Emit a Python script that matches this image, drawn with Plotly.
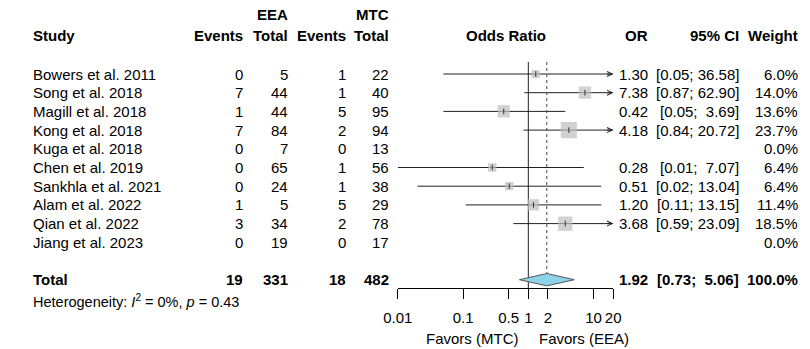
import math
import plotly.graph_objects as go

# ---------------- data ----------------
studies = ["Bowers et al. 2011", "Song et al. 2018", "Magill et al. 2018", "Kong et al. 2018",
           "Kuga et al. 2018", "Chen et al. 2019", "Sankhla et al. 2021", "Alam et al. 2022",
           "Qian et al. 2022", "Jiang et al. 2023"]
eea_events = [0, 7, 1, 7, 0, 0, 0, 1, 3, 0]
eea_total = [5, 44, 44, 84, 7, 65, 24, 5, 34, 19]
mtc_events = [1, 1, 5, 2, 0, 1, 1, 5, 2, 0]
mtc_total = [22, 40, 95, 94, 13, 56, 38, 29, 78, 17]
odds_ratio = [1.30, 7.38, 0.42, 4.18, None, 0.28, 0.51, 1.20, 3.68, None]
ci_lower = [0.05, 0.87, 0.05, 0.84, None, 0.01, 0.02, 0.11, 0.59, None]
ci_upper = [36.58, 62.90, 3.69, 20.72, None, 7.07, 13.04, 13.15, 23.09, None]
weights = [6.0, 14.0, 13.6, 23.7, 0.0, 6.4, 6.4, 11.4, 18.5, 0.0]

total_eea_events = 19
total_eea = 331
total_mtc_events = 18
total_mtc = 482
pooled_or = 1.92
pooled_lower = 0.73
pooled_upper = 5.06
pooled_weight = 100.0
het_i2 = 0
het_p = 0.43

axis_ticks = [0.01, 0.1, 0.5, 1, 2, 10, 20]
axis_tick_labels = ["0.01", "0.1", "0.5", "1", "2", "10", "20"]
axis_min, axis_max = 0.01, 20

# ---------------- layout constants ----------------
W, H = 810, 349
FONT = "Liberation Sans, Arial, sans-serif"
FS = 15
ROW0 = 74.0      # pixel y of first study row
STEP = 18.7      # pixel spacing between rows
NBSP = "\u00a0"


def py(px):
    """pixel y -> row-index coordinate"""
    return (px - ROW0) / STEP


def fx(px):
    """pixel x -> paper fraction"""
    return px / W


n = len(studies)
total_row = n + 1
axis_line_px = 288

fig = go.Figure()

# CI lines
cx, cy = [], []
arrows = []
for i in range(n):
    if odds_ratio[i] is None:
        continue
    lo = max(ci_lower[i], axis_min)
    hi = min(ci_upper[i], axis_max)
    cx += [lo, hi, None]
    cy += [i, i, None]
    if ci_upper[i] > axis_max:
        arrows.append(i)
fig.add_trace(go.Scatter(x=cx, y=cy, mode="lines", line=dict(color="#222222", width=1),
                         hoverinfo="skip", showlegend=False))

# reference line at OR = 1
fig.add_trace(go.Scatter(x=[1, 1], y=[py(62), py(axis_line_px)], mode="lines",
                         line=dict(color="#222222", width=1), hoverinfo="skip", showlegend=False))
# dotted line at pooled estimate
dh = 0.33
fig.add_trace(go.Scatter(x=[pooled_or, pooled_or], y=[py(62), total_row - dh], mode="lines",
                         line=dict(color="#444444", width=1, dash="dot"), hoverinfo="skip",
                         showlegend=False))

# boxes
bx, by, bs = [], [], []
for i in range(n):
    if odds_ratio[i] is None:
        continue
    bx.append(odds_ratio[i])
    by.append(i)
    bs.append(3.3 * math.sqrt(weights[i]))
fig.add_trace(go.Scatter(x=bx, y=by, mode="markers",
                         marker=dict(symbol="square", size=bs, color="#BEBEBE", line=dict(width=0)),
                         hoverinfo="skip", showlegend=False))
fig.add_trace(go.Scatter(x=bx, y=by, mode="markers",
                         marker=dict(symbol="line-ns", size=4, line=dict(color="#333333", width=1)),
                         hoverinfo="skip", showlegend=False))

# diamond
fig.add_trace(go.Scatter(x=[pooled_lower, pooled_or, pooled_upper, pooled_or, pooled_lower],
                         y=[total_row, total_row - dh, total_row, total_row + dh, total_row],
                         mode="lines", fill="toself", fillcolor="#8DD3EA",
                         line=dict(color="#555555", width=1), hoverinfo="skip", showlegend=False))

annotations = []


def txt(x_px, y, text, anchor="right", bold=False, size=FS):
    if bold:
        text = "<b>" + text + "</b>"
    annotations.append(dict(x=fx(x_px), y=y, xref="paper", yref="y", text=text, showarrow=False,
                            xanchor=anchor, yanchor="middle",
                            font=dict(family=FONT, size=size, color="black")))


# arrows
for i in arrows:
    annotations.append(dict(x=math.log10(axis_max), y=i, ax=math.log10(axis_max) - 0.12, ay=i,
                            xref="x", yref="y", axref="x", ayref="y", text="", showarrow=True,
                            arrowhead=5, arrowsize=1, arrowwidth=1, arrowcolor="#222222",
                            standoff=0, startstandoff=0))

COL_STUDY = 16
COL_EE, COL_ET, COL_ME, COL_MT = 237, 283, 343, 387
COL_OR, COL_CI, COL_W = 654, 747, 808

# headers
hy1, hy2 = py(14), py(35.5)
txt(COL_ET, hy1, "EEA", bold=True)
txt(COL_MT, hy1, "MTC", bold=True)
txt(COL_STUDY, hy2, "Study", anchor="left", bold=True)
txt(COL_EE, hy2, "Events", bold=True)
txt(COL_ET, hy2, "Total", bold=True)
txt(COL_ME, hy2, "Events", bold=True)
txt(COL_MT, hy2, "Total", bold=True)
annotations.append(dict(x=0.5 * (math.log10(axis_min) + math.log10(axis_max)), y=hy2, xref="x", yref="y",
                        text="<b>Odds Ratio</b>", showarrow=False, xanchor="center", yanchor="middle",
                        font=dict(family=FONT, size=FS, color="black")))
txt(COL_OR, hy2, "OR", bold=True)
txt(COL_CI, hy2, "95% CI", bold=True)
txt(COL_W, hy2, "Weight", bold=True)


def ci_text(lo, hi):
    return ("[%.2f; %5.2f]" % (lo, hi)).replace(" ", NBSP)


for i in range(n):
    txt(COL_STUDY, i, studies[i], anchor="left")
    txt(COL_EE, i, str(eea_events[i]))
    txt(COL_ET, i, str(eea_total[i]))
    txt(COL_ME, i, str(mtc_events[i]))
    txt(COL_MT, i, str(mtc_total[i]))
    if odds_ratio[i] is not None:
        txt(COL_OR, i, "%.2f" % odds_ratio[i])
        txt(COL_CI, i, ci_text(ci_lower[i], ci_upper[i]))
    txt(COL_W, i, "%.1f%%" % weights[i])

# total row
txt(COL_STUDY, total_row, "Total", anchor="left", bold=True)
txt(COL_EE, total_row, str(total_eea_events), bold=True)
txt(COL_ET, total_row, str(total_eea), bold=True)
txt(COL_ME, total_row, str(total_mtc_events), bold=True)
txt(COL_MT, total_row, str(total_mtc), bold=True)
txt(COL_OR, total_row, "%.2f" % pooled_or, bold=True)
txt(COL_CI, total_row, ci_text(pooled_lower, pooled_upper), bold=True)
txt(COL_W, total_row, "%.1f%%" % pooled_weight, bold=True)

# heterogeneity
txt(COL_STUDY, py(300.5),
    "Heterogeneity: <i>I</i><sup>2</sup> = %d%%, <i>p</i> = %.2f" % (het_i2, het_p),
    anchor="left", size=14.5)

# favors labels
fy = py(338)
annotations.append(dict(x=0, y=fy, xref="x", yref="y", text="Favors (MTC)", showarrow=False,
                        xanchor="right", yanchor="middle", xshift=-7,
                        font=dict(family=FONT, size=FS, color="black")))
annotations.append(dict(x=0, y=fy, xref="x", yref="y", text="Favors (EEA)", showarrow=False,
                        xanchor="left", yanchor="middle", xshift=9,
                        font=dict(family=FONT, size=FS, color="black")))

fig.update_layout(
    width=W, height=H,
    margin=dict(l=0, r=0, t=0, b=0),
    paper_bgcolor="white", plot_bgcolor="rgba(0,0,0,0)",
    showlegend=False,
    annotations=annotations,
    xaxis=dict(type="log", range=[math.log10(axis_min), math.log10(axis_max)],
               domain=[fx(394), fx(615.7)], anchor="free", position=(H - axis_line_px) / H,
               showgrid=False, zeroline=False, showline=True, linecolor="black", linewidth=1,
               ticks="outside", ticklen=10, tickwidth=1, tickcolor="black",
               tickvals=axis_ticks, ticktext=axis_tick_labels,
               tickfont=dict(family=FONT, size=FS, color="black"), ticklabelstandoff=6),
    yaxis=dict(range=[py(H), py(0)], domain=[0, 1], visible=False, showgrid=False, zeroline=False),
)

fig.write_html("out.html")
